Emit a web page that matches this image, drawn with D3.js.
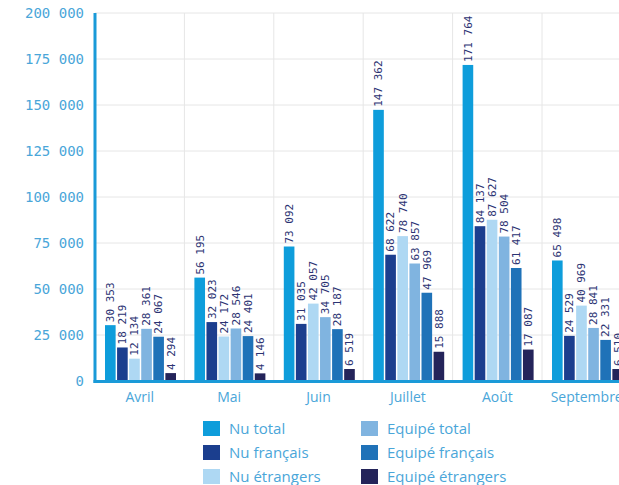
<!DOCTYPE html>
<html>
<head>
<meta charset="utf-8">
<script src="https://cdn.jsdelivr.net/npm/d3@7"></script>
<style>
  html, body { margin: 0; padding: 0; background: #ffffff; }
  svg { display: block; }
</style>
</head>
<body>
<svg id="chart" width="619" height="485"></svg>
<script>
const months = ["Avril", "Mai", "Juin", "Juillet", "Août", "Septembre"];
const seriesNames = ["Nu total", "Nu français", "Nu étrangers", "Equipé total", "Equipé français", "Equipé étrangers"];
const seriesColors = ["#0e9ddb", "#1b3e8e", "#aed8f3", "#80b4e0", "#1f72b8", "#24245a"];
const nuTotal = [30353, 56195, 73092, 147362, 171764, 65498];
const nuFrancais = [18219, 32023, 31035, 68622, 84137, 24529];
const nuEtrangers = [12134, 24172, 42057, 78740, 87627, 40969];
const equipeTotal = [28361, 28546, 34705, 63857, 78504, 28841];
const equipeFrancais = [24067, 24401, 28187, 47969, 61417, 22331];
const equipeEtrangers = [4294, 4146, 6519, 15888, 17087, 6510];
const yTicks = [0, 25000, 50000, 75000, 100000, 125000, 150000, 175000, 200000];

const seriesValues = [nuTotal, nuFrancais, nuEtrangers, equipeTotal, equipeFrancais, equipeEtrangers];
const fmt = v => d3.format(",")(v).replace(/,/g, " ");

const svg = d3.select("#chart");
const plotLeft = 95, yZero = 381, yTop = 13;
const bandW = 89.4;

const x0 = d3.scaleBand().domain(months).range([plotLeft, plotLeft + bandW * months.length]).padding(0);
const x1 = d3.scaleBand().domain(seriesNames).range([10, 81]).paddingInner(0.12).paddingOuter(0);
const y = d3.scaleLinear().domain([0, 200000]).range([yZero, yTop]);

// grid
const grid = svg.append("g");
grid.selectAll("line.h").data(yTicks.slice(1)).join("line")
  .attr("x1", plotLeft).attr("x2", 619)
  .attr("y1", d => y(d)).attr("y2", d => y(d))
  .attr("stroke", "#e6e6e6").attr("stroke-width", 1);
grid.selectAll("line.v").data(months.slice(1)).join("line")
  .attr("x1", d => x0(d)).attr("x2", d => x0(d))
  .attr("y1", yTop).attr("y2", yZero)
  .attr("stroke", "#e6e6e6").attr("stroke-width", 1);

// y axis labels
const yAxis = d3.axisLeft(y).tickValues(yTicks).tickSize(0).tickPadding(10).tickFormat(fmt);
const ya = svg.append("g").attr("transform", `translate(${plotLeft - 1},0)`).call(yAxis);
ya.select(".domain").remove();
ya.selectAll("text")
  .attr("fill", "#4aa6d9")
  .style("font-family", "'DejaVu Sans Mono', monospace")
  .style("font-size", "14px");

// x axis labels
const xAxis = d3.axisBottom(x0).tickSize(0).tickPadding(9);
const xa = svg.append("g").attr("transform", `translate(0,${yZero + 2})`).call(xAxis);
xa.select(".domain").remove();
xa.selectAll("text")
  .attr("fill", "#4aa6d9")
  .style("font-family", "'Open Sans', sans-serif")
  .style("font-size", "14px");

// bars
const groups = svg.append("g").selectAll("g").data(months).join("g")
  .attr("transform", d => `translate(${x0(d)},0)`);

groups.each(function(m, mi) {
  const g = d3.select(this);
  const data = seriesNames.map((s, si) => ({ s, si, v: seriesValues[si][mi] }));
  g.selectAll("rect").data(data).join("rect")
    .attr("x", d => x1(d.s))
    .attr("width", x1.bandwidth())
    .attr("y", d => y(d.v))
    .attr("height", d => yZero - y(d.v))
    .attr("fill", d => seriesColors[d.si]);
  g.selectAll("text").data(data).join("text")
    .attr("transform", d => `translate(${x1(d.s) + x1.bandwidth() / 2},${y(d.v) - 3}) rotate(-90)`)
    .attr("dy", "0.35em")
    .attr("text-anchor", "start")
    .attr("fill", "#2c3373")
    .style("font-family", "'DejaVu Sans Mono', monospace")
    .style("font-size", "11px")
    .text(d => fmt(d.v));
});

// axis lines
svg.append("line").attr("x1", plotLeft).attr("x2", plotLeft)
  .attr("y1", yTop).attr("y2", yZero + 2)
  .attr("stroke", "#1a9ad8").attr("stroke-width", 3);
svg.append("line").attr("x1", plotLeft - 1.5).attr("x2", 619)
  .attr("y1", yZero + 0.5).attr("y2", yZero + 0.5)
  .attr("stroke", "#1a9ad8").attr("stroke-width", 3);

// legend
const legend = svg.append("g");
const colX = [203, 361];
const rowY = [421, 445, 469];
seriesNames.forEach((s, i) => {
  const cx = colX[Math.floor(i / 3)], cy = rowY[i % 3];
  legend.append("rect").attr("x", cx).attr("y", cy).attr("width", 17).attr("height", 15)
    .attr("fill", seriesColors[i]);
  legend.append("text").attr("x", cx + 26).attr("y", cy + 8).attr("dy", "0.35em")
    .attr("fill", "#4aa6d9")
    .style("font-family", "'Open Sans', sans-serif")
    .style("font-size", "15px")
    .text(s);
});
</script>
</body>
</html>
